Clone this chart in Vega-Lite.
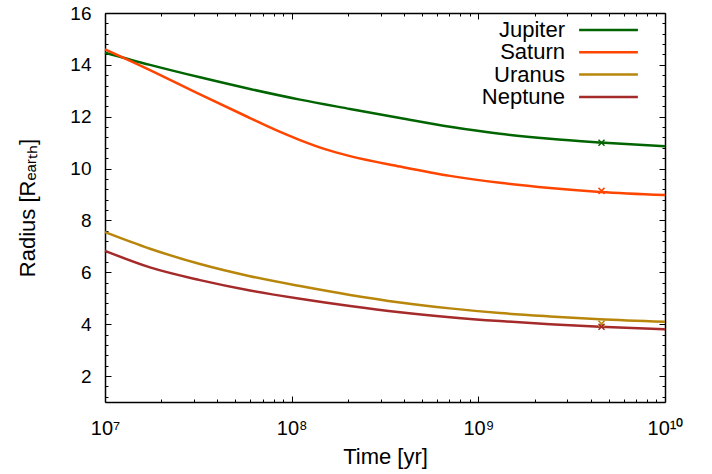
{
  "$schema": "https://vega.github.io/schema/vega-lite/v6.json",
  "width": 560,
  "height": 389,
  "autosize": {"type": "none"},
  "padding": {"left": 105, "top": 13, "right": 47, "bottom": 72},
  "background": "white",
  "config": {
    "view": {"stroke": null},
    "font": "Liberation Sans",
    "axis": {"grid": false, "domainColor": "black", "domainWidth": 1.5, "tickColor": "black", "tickWidth": 1, "labelColor": "black", "titleColor": "black", "labelFont": "Liberation Sans", "titleFont": "Liberation Sans", "titleFontWeight": "normal"}
  },
  "datasets": {
    "curves": [
      {"planet": "Jupiter", "t": 10000000, "r": 14.47},
      {"planet": "Jupiter", "t": 17420000, "r": 14.0},
      {"planet": "Jupiter", "t": 32280000, "r": 13.52},
      {"planet": "Jupiter", "t": 59800000, "r": 13.07},
      {"planet": "Jupiter", "t": 110800000, "r": 12.66},
      {"planet": "Jupiter", "t": 205400000, "r": 12.3},
      {"planet": "Jupiter", "t": 380500000, "r": 11.95},
      {"planet": "Jupiter", "t": 705000000, "r": 11.61},
      {"planet": "Jupiter", "t": 1306000000, "r": 11.34},
      {"planet": "Jupiter", "t": 2420000000, "r": 11.15},
      {"planet": "Jupiter", "t": 4485000000, "r": 11.01},
      {"planet": "Jupiter", "t": 10000000000, "r": 10.86},
      {"planet": "Saturn", "t": 10000000, "r": 14.6},
      {"planet": "Saturn", "t": 17420000, "r": 13.8},
      {"planet": "Saturn", "t": 32280000, "r": 12.86},
      {"planet": "Saturn", "t": 59800000, "r": 11.95},
      {"planet": "Saturn", "t": 81400000, "r": 11.5},
      {"planet": "Saturn", "t": 110800000, "r": 11.1},
      {"planet": "Saturn", "t": 150900000, "r": 10.75},
      {"planet": "Saturn", "t": 205400000, "r": 10.48},
      {"planet": "Saturn", "t": 380500000, "r": 10.08},
      {"planet": "Saturn", "t": 705000000, "r": 9.72},
      {"planet": "Saturn", "t": 1306000000, "r": 9.45},
      {"planet": "Saturn", "t": 2420000000, "r": 9.25},
      {"planet": "Saturn", "t": 4485000000, "r": 9.1},
      {"planet": "Saturn", "t": 10000000000, "r": 8.98},
      {"planet": "Uranus", "t": 10000000, "r": 7.55},
      {"planet": "Uranus", "t": 17420000, "r": 6.91},
      {"planet": "Uranus", "t": 32280000, "r": 6.32},
      {"planet": "Uranus", "t": 59800000, "r": 5.85},
      {"planet": "Uranus", "t": 110800000, "r": 5.47},
      {"planet": "Uranus", "t": 205400000, "r": 5.13},
      {"planet": "Uranus", "t": 380500000, "r": 4.84},
      {"planet": "Uranus", "t": 705000000, "r": 4.61},
      {"planet": "Uranus", "t": 1306000000, "r": 4.43},
      {"planet": "Uranus", "t": 2420000000, "r": 4.3},
      {"planet": "Uranus", "t": 4485000000, "r": 4.19},
      {"planet": "Uranus", "t": 10000000000, "r": 4.09},
      {"planet": "Neptune", "t": 10000000, "r": 6.83},
      {"planet": "Neptune", "t": 17420000, "r": 6.19},
      {"planet": "Neptune", "t": 32280000, "r": 5.7},
      {"planet": "Neptune", "t": 59800000, "r": 5.3},
      {"planet": "Neptune", "t": 110800000, "r": 4.98},
      {"planet": "Neptune", "t": 205400000, "r": 4.7},
      {"planet": "Neptune", "t": 380500000, "r": 4.46},
      {"planet": "Neptune", "t": 705000000, "r": 4.27},
      {"planet": "Neptune", "t": 1306000000, "r": 4.12},
      {"planet": "Neptune", "t": 2420000000, "r": 4.0},
      {"planet": "Neptune", "t": 4485000000, "r": 3.9},
      {"planet": "Neptune", "t": 10000000000, "r": 3.8}
    ],
    "now": [
      {"planet": "Jupiter", "t": 4570000000, "r": 11.0},
      {"planet": "Saturn", "t": 4570000000, "r": 9.14},
      {"planet": "Uranus", "t": 4570000000, "r": 4.02},
      {"planet": "Neptune", "t": 4570000000, "r": 3.9}
    ]
  },
  "resolve": {"axis": {"x": "independent", "y": "independent"}},
  "layer": [
    {
      "data": {"name": "curves"},
      "mark": {"type": "line", "strokeWidth": 2.5, "interpolate": "monotone"},
      "encoding": {
        "x": {"field": "t", "type": "quantitative",
          "scale": {"type": "log", "domain": [10000000, 10000000000], "nice": false},
          "axis": {"orient": "bottom", "values": [10000000, 100000000, 1000000000, 10000000000], "tickSize": -6, "labelPadding": 22, "labelFontSize": 20, "labelFlush": false,
            "labelExpr": "datum.value < 5e7 ? '10⁷' : datum.value < 5e8 ? '10⁸' : datum.value < 5e9 ? '10⁹' : '10¹⁰'",
            "title": "Time [yr]", "titleFontSize": 22, "titlePadding": 8, "domain": true}},
        "y": {"field": "r", "type": "quantitative",
          "scale": {"domain": [1, 16], "nice": false, "zero": false},
          "axis": {"orient": "left", "values": [2, 4, 6, 8, 10, 12, 14, 16], "tickSize": -6, "labelPadding": 20, "labelFontSize": 19,
            "title": "Radius [Rₑₐᵣₜₕ]", "titleFontSize": 22, "titlePadding": 30, "domain": true}},
        "color": {"field": "planet", "type": "nominal",
          "scale": {"domain": ["Jupiter", "Saturn", "Uranus", "Neptune"], "range": ["#006400", "#ff4500", "#b8860b", "#a52a2a"]},
          "legend": {"orient": "none", "legendX": 492.5, "legendY": 6, "padding": 0, "title": null,
            "symbolType": "M-4.9,0H4.9", "symbolSize": 144, "symbolStrokeWidth": 2.5, "rowPadding": 0.3,
            "labelAlign": "right", "labelOffset": -54.5, "labelFontSize": 22, "labelFont": "Liberation Sans", "labelColor": "black", "labelLimit": 300}}
      }
    },
    {
      "data": {"name": "now"},
      "mark": {"type": "point", "shape": "M-1,-1L1,1M-1,1L1,-1", "size": 36, "filled": false, "strokeWidth": 1.5, "opacity": 1},
      "encoding": {
        "x": {"field": "t", "type": "quantitative",
          "axis": {"orient": "top", "values": [10000000, 100000000, 1000000000, 10000000000], "tickSize": -6, "labels": false, "title": null, "domain": true}},
        "y": {"field": "r", "type": "quantitative",
          "axis": {"orient": "right", "values": [2, 4, 6, 8, 10, 12, 14, 16], "tickSize": -6, "labels": false, "title": null, "domain": true}},
        "color": {"field": "planet", "type": "nominal", "legend": null}
      }
    },
    {
      "data": {"name": "now"},
      "mark": {"type": "point", "opacity": 0},
      "encoding": {
        "x": {"field": "t", "type": "quantitative",
          "axis": {"orient": "bottom", "values": [20000000, 30000000, 40000000, 50000000, 60000000, 70000000, 80000000, 90000000, 200000000, 300000000, 400000000, 500000000, 600000000, 700000000, 800000000, 900000000, 2000000000, 3000000000, 4000000000, 5000000000, 6000000000, 7000000000, 8000000000, 9000000000], "tickSize": -3, "labels": false, "title": null, "domain": false}},
        "y": {"field": "r", "type": "quantitative",
          "axis": {"orient": "left", "values": [1.2, 1.6, 2.4, 2.8, 3.2, 3.6, 4.4, 4.8, 5.2, 5.6, 6.4, 6.8, 7.2, 7.6, 8.4, 8.8, 9.2, 9.6, 10.4, 10.8, 11.2, 11.6, 12.4, 12.8, 13.2, 13.6, 14.4, 14.8, 15.2, 15.6], "tickSize": -3, "labels": false, "title": null, "domain": false}}
      }
    },
    {
      "data": {"name": "now"},
      "mark": {"type": "point", "opacity": 0},
      "encoding": {
        "x": {"field": "t", "type": "quantitative",
          "axis": {"orient": "top", "values": [20000000, 30000000, 40000000, 50000000, 60000000, 70000000, 80000000, 90000000, 200000000, 300000000, 400000000, 500000000, 600000000, 700000000, 800000000, 900000000, 2000000000, 3000000000, 4000000000, 5000000000, 6000000000, 7000000000, 8000000000, 9000000000], "tickSize": -3, "labels": false, "title": null, "domain": false}},
        "y": {"field": "r", "type": "quantitative",
          "axis": {"orient": "right", "values": [1.2, 1.6, 2.4, 2.8, 3.2, 3.6, 4.4, 4.8, 5.2, 5.6, 6.4, 6.8, 7.2, 7.6, 8.4, 8.8, 9.2, 9.6, 10.4, 10.8, 11.2, 11.6, 12.4, 12.8, 13.2, 13.6, 14.4, 14.8, 15.2, 15.6], "tickSize": -3, "labels": false, "title": null, "domain": false}}
      }
    }
  ]
}
